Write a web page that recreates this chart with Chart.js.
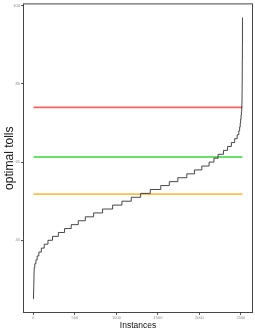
<!DOCTYPE html>
<html>
<head>
<meta charset="utf-8">
<script src="https://cdn.jsdelivr.net/npm/chart.js@4.4.0/dist/chart.umd.min.js"></script>
<style>
  html, body { margin: 0; padding: 0; background: #fff; }
</style>
</head>
<body>
<canvas id="chart" width="255" height="330"></canvas>
<script>
// --- data ---
// sorted instances: the toll value and the first instance index where it starts
const STEP_START = [0, 1, 2, 3, 4, 5, 6, 7, 9, 16, 30, 45, 65, 95, 130, 175, 230, 300, 375, 455,
  540, 625, 725, 833, 954, 1066, 1179, 1292, 1408, 1534, 1638, 1740, 1848, 1940, 2029, 2117,
  2175, 2225, 2290, 2340, 2385, 2425, 2455, 2475, 2485, 2492, 2497, 2502, 2506, 2510,
  2512, 2513, 2514, 2515, 2516, 2517, 2518, 2519];
const STEP_VALUE = [25, 26, 27, 28, 29, 30, 31, 32, 33, 34, 35, 36, 37, 38, 39, 40, 41, 42, 43, 44,
  45, 46, 47, 48, 49, 50, 51, 52, 53, 54, 55, 56, 57, 58, 59, 60,
  61, 62, 63, 64, 65, 66, 67, 68, 69, 70, 71, 72, 73, 74,
  75, 76, 78, 80, 83, 86, 90, 97];

// horizontal reference tolls
const REF_VALUES = [74, 61.3, 51.8];
const REF_COLORS = ['#f26363', '#3ad63a', '#fdbf4c'];
const REF_FROM = 0;
const REF_TO = 2519;

const X_TICKS = [0, 500, 1000, 1500, 2000, 2500];
const Y_TICKS = [40, 60, 80, 100];
const X_LIMITS = [-126, 2646];
const Y_LIMITS = [21.4, 100.6];

// --- build datasets ---
const curvePoints = STEP_START.map((x, i) => ({ x: x, y: STEP_VALUE[i] }));

const datasets = [{
  data: curvePoints,
  borderColor: '#333333',
  borderWidth: 0.9,
  pointRadius: 0,
  stepped: 'before',
  fill: false
}];

REF_VALUES.forEach((v, i) => {
  datasets.push({
    data: [{ x: REF_FROM, y: v }, { x: REF_TO, y: v }],
    borderColor: REF_COLORS[i],
    borderWidth: 1.6,
    pointRadius: 0,
    fill: false
  });
});

// border around the whole panel
const panelBox = {
  id: 'panelBox',
  afterDraw(chart) {
    const a = chart.chartArea;
    const ctx = chart.ctx;
    ctx.save();
    ctx.strokeStyle = '#444444';
    ctx.lineWidth = 1;
    ctx.strokeRect(a.left + 0.5, a.top + 0.5, a.right - a.left - 1, a.bottom - a.top - 1);
    ctx.restore();
  }
};

new Chart(document.getElementById('chart').getContext('2d'), {
  type: 'line',
  data: { datasets: datasets },
  options: {
    responsive: false,
    animation: false,
    devicePixelRatio: 1,
    layout: { padding: { top: 3, right: 2, left: 0, bottom: 0 } },
    plugins: { legend: { display: false }, tooltip: { enabled: false } },
    scales: {
      x: {
        type: 'linear',
        min: X_LIMITS[0],
        max: X_LIMITS[1],
        afterBuildTicks: s => { s.ticks = X_TICKS.map(v => ({ value: v })); },
        afterFit: s => { s.height = 17; },
        grid: { drawOnChartArea: false, tickLength: 2, color: '#555' },
        border: { display: false },
        ticks: { font: { size: 4, family: 'Liberation Sans' }, color: '#888', padding: 0, maxRotation: 0,
          callback: v => String(v) },
        title: { display: true, text: 'Instances', color: '#111',
          font: { size: 8.5, family: 'Liberation Sans' }, padding: { top: 0, bottom: -1 } }
      },
      y: {
        type: 'linear',
        min: Y_LIMITS[0],
        max: Y_LIMITS[1],
        afterBuildTicks: s => { s.ticks = Y_TICKS.map(v => ({ value: v })); },
        afterFit: s => { s.width = 23; },
        grid: { drawOnChartArea: false, tickLength: 2, color: '#555' },
        border: { display: false },
        ticks: { font: { size: 4, family: 'Liberation Sans' }, color: '#888', padding: 1,
          callback: v => String(v) },
        title: { display: true, text: 'optimal tolls', color: '#111',
          font: { size: 12, family: 'Liberation Sans' }, padding: { top: 2, bottom: 0 } }
      }
    }
  },
  plugins: [panelBox]
});
</script>
</body>
</html>
